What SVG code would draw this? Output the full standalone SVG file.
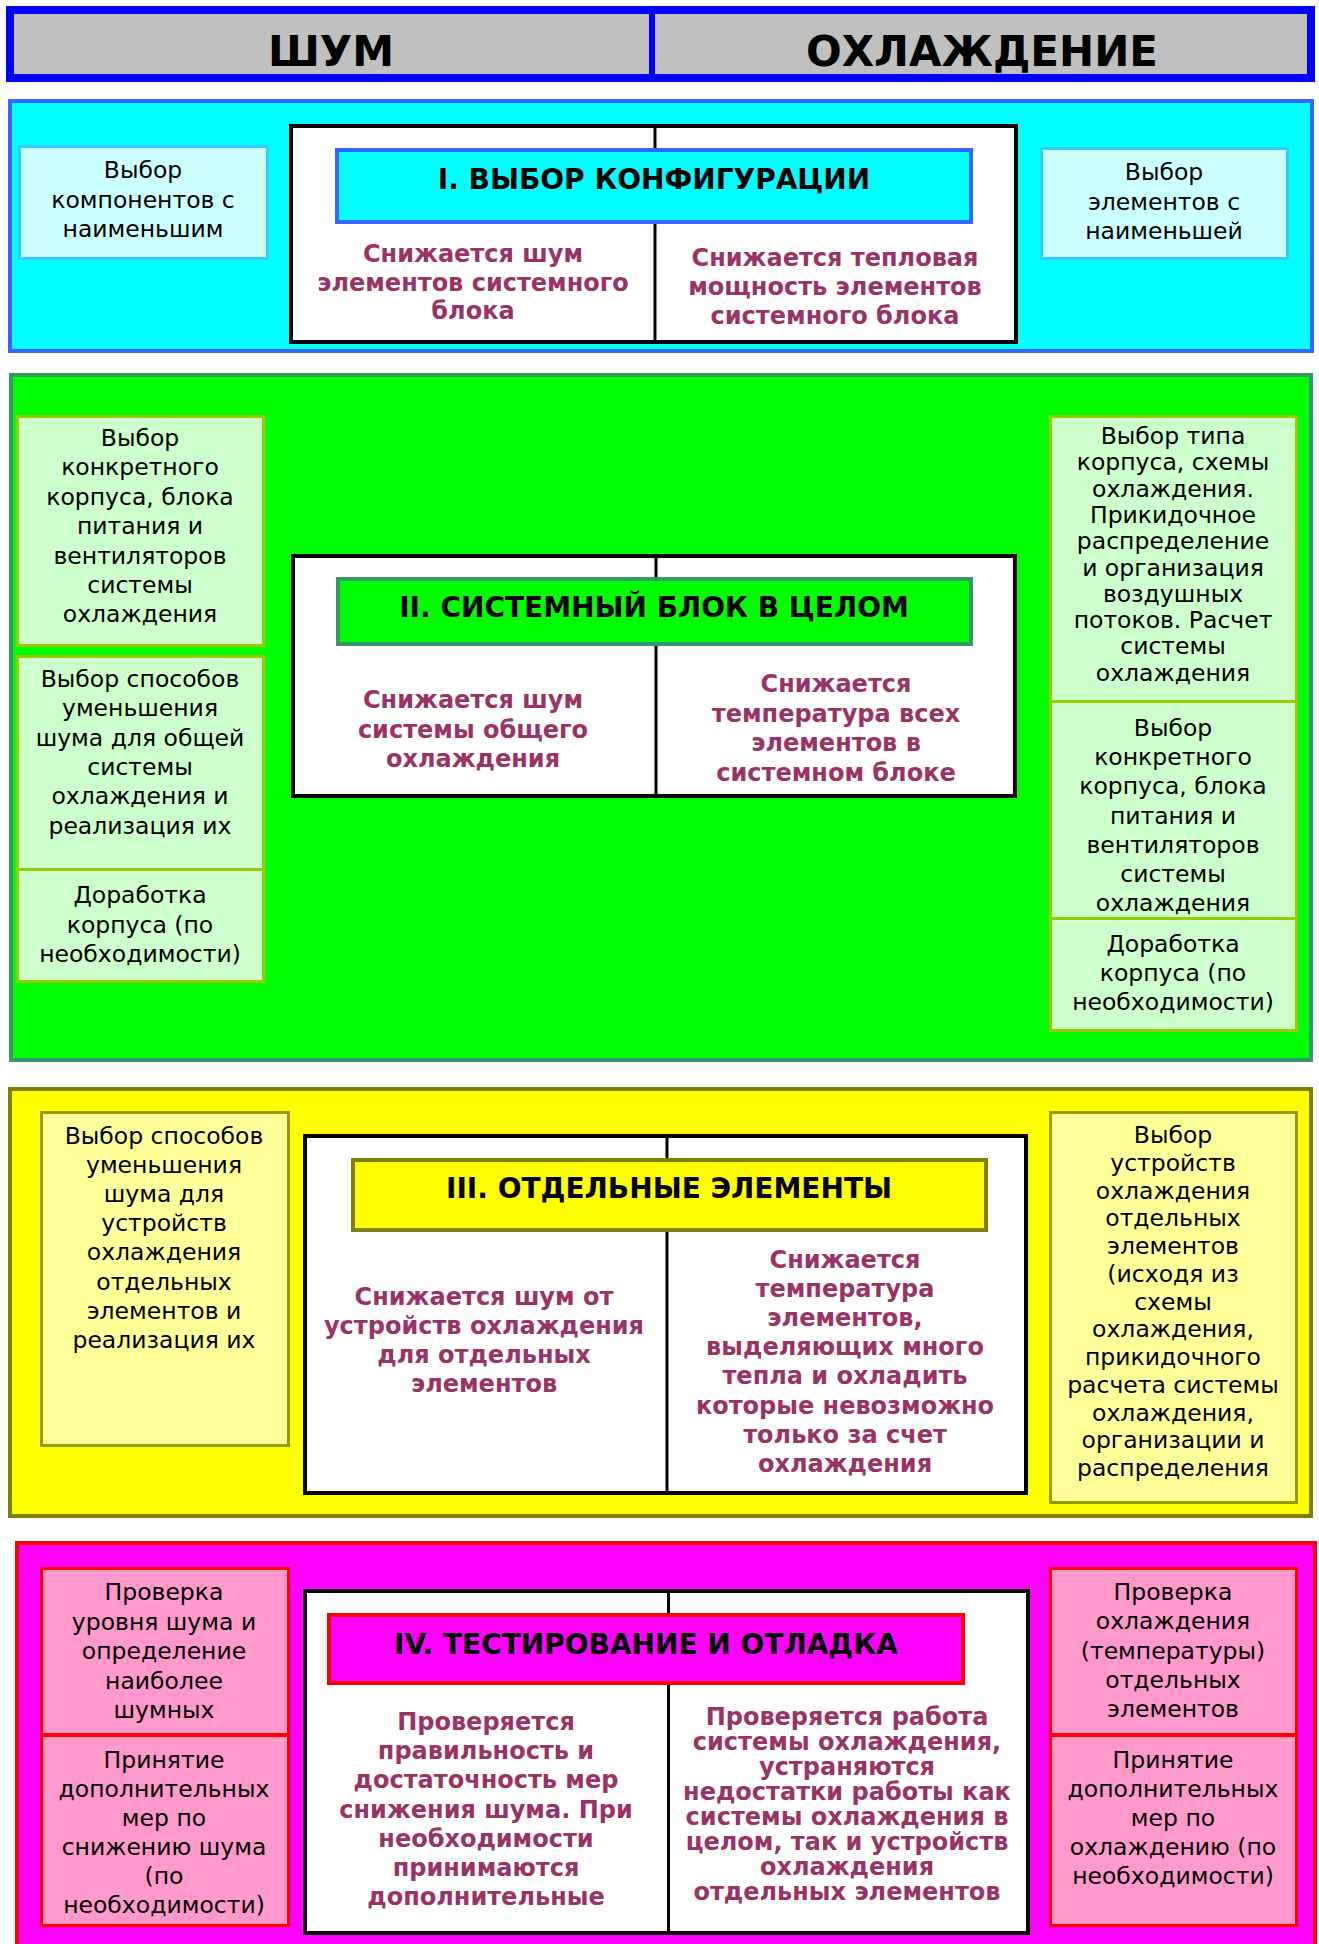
<svg xmlns="http://www.w3.org/2000/svg" width="1319" height="1944" viewBox="0 0 1319 1944">
<style>
text{font-family:"DejaVu Sans","Verdana",sans-serif;text-anchor:middle}
.hd{font-size:42px;font-weight:bold;fill:#000}
.tt{font-size:28px;font-weight:bold;fill:#000}
.pr{font-size:24px;font-weight:bold;fill:#993366}
.bd{font-size:23.5px;fill:#000}
.bd3{font-size:23.5px;fill:#000}
.wb{fill:#fff;stroke:#000;stroke-width:4}
.dv{stroke:#000;stroke-width:3}
</style>
<rect width="1319" height="1944" fill="#fff"/>

<g id="header">
<rect x="10" y="10" width="1301" height="68" fill="#c0c0c0" stroke="#0000ff" stroke-width="8"/>
<line x1="652" y1="10" x2="652" y2="80" stroke="#0000ff" stroke-width="6"/>
<text class="hd" x="331" y="66">ШУМ</text>
<text class="hd" x="982" y="66">ОХЛАЖДЕНИЕ</text>
</g>

<g id="section1">
<rect x="10" y="101" width="1302" height="250" fill="#00ffff" stroke="#3366ff" stroke-width="4"/>
<g id="s1-left">
<rect x="19.5" y="146.5" width="248" height="112" fill="#ccffff" stroke="#33ccff" stroke-width="3"/>
<text class="bd" x="143"><tspan x="143" y="178">Выбор</tspan><tspan x="143" y="207.5">компонентов с</tspan><tspan x="143" y="237">наименьшим</tspan></text>
</g>
<g id="s1-right">
<rect x="1041.5" y="148.5" width="246" height="110" fill="#ccffff" stroke="#33ccff" stroke-width="3"/>
<text class="bd" x="1164"><tspan x="1164" y="180">Выбор</tspan><tspan x="1164" y="209.5">элементов с</tspan><tspan x="1164" y="239">наименьшей</tspan></text>
</g>
<g id="s1-center">
<rect class="wb" x="291" y="126" width="725" height="216"/>
<line class="dv" x1="655" y1="126" x2="655" y2="342"/>
<rect x="337" y="150" width="634" height="72" fill="#00ffff" stroke="#3366ff" stroke-width="4"/>
<text class="tt" x="654" y="189">I. ВЫБОР КОНФИГУРАЦИИ</text>
<text class="pr"><tspan x="473" y="262">Снижается шум</tspan><tspan x="473" y="290.5">элементов системного</tspan><tspan x="473" y="319">блока</tspan></text>
<text class="pr"><tspan x="835" y="266">Снижается тепловая</tspan><tspan x="835" y="295">мощность элементов</tspan><tspan x="835" y="324">системного блока</tspan></text>
</g>
</g>

<g id="section2">
<rect x="11" y="375" width="1300" height="685" fill="#00ff00" stroke="#339966" stroke-width="4"/>
<g id="s2-left-a">
<rect x="17.5" y="416.5" width="246" height="229" fill="#ccffcc" stroke="#99cc00" stroke-width="3"/>
<text class="bd"><tspan x="140" y="446">Выбор</tspan><tspan x="140" y="475.4">конкретного</tspan><tspan x="140" y="504.8">корпуса, блока</tspan><tspan x="140" y="534.2">питания и</tspan><tspan x="140" y="563.6">вентиляторов</tspan><tspan x="140" y="593">системы</tspan><tspan x="140" y="622.4">охлаждения</tspan></text>
</g>
<g id="s2-left-b">
<rect x="17.5" y="656.5" width="246" height="213" fill="#ccffcc" stroke="#99cc00" stroke-width="3"/>
<text class="bd"><tspan x="140" y="687">Выбор способов</tspan><tspan x="140" y="716.3">уменьшения</tspan><tspan x="140" y="745.6">шума для общей</tspan><tspan x="140" y="774.9">системы</tspan><tspan x="140" y="804.2">охлаждения и</tspan><tspan x="140" y="833.5">реализация их</tspan></text>
</g>
<g id="s2-left-c">
<rect x="17.5" y="869.5" width="246" height="112" fill="#ccffcc" stroke="#99cc00" stroke-width="3"/>
<text class="bd"><tspan x="140" y="903">Доработка</tspan><tspan x="140" y="932.5">корпуса (по</tspan><tspan x="140" y="962">необходимости)</tspan></text>
</g>
<g id="s2-center">
<rect class="wb" x="293" y="556" width="722" height="240"/>
<line class="dv" x1="656" y1="556" x2="656" y2="796"/>
<rect x="338" y="579" width="633" height="65" fill="#00ff00" stroke="#339966" stroke-width="4"/>
<text class="tt" x="654" y="617">II. СИСТЕМНЫЙ БЛОК В ЦЕЛОМ</text>
<text class="pr"><tspan x="473" y="708">Снижается шум</tspan><tspan x="473" y="737.5">системы общего</tspan><tspan x="473" y="767">охлаждения</tspan></text>
<text class="pr"><tspan x="836" y="692">Снижается</tspan><tspan x="836" y="721.5">температура всех</tspan><tspan x="836" y="751">элементов в</tspan><tspan x="836" y="780.5">системном блоке</tspan></text>
</g>
<g id="s2-right-a">
<rect x="1050.5" y="416.5" width="246" height="285" fill="#ccffcc" stroke="#99cc00" stroke-width="3"/>
<text class="bd"><tspan x="1173" y="444">Выбор типа</tspan><tspan x="1173" y="470.3">корпуса, схемы</tspan><tspan x="1173" y="496.6">охлаждения.</tspan><tspan x="1173" y="522.9">Прикидочное</tspan><tspan x="1173" y="549.2">распределение</tspan><tspan x="1173" y="575.5">и организация</tspan><tspan x="1173" y="601.8">воздушных</tspan><tspan x="1173" y="628.1">потоков. Расчет</tspan><tspan x="1173" y="654.4">системы</tspan><tspan x="1173" y="680.7">охлаждения</tspan></text>
</g>
<g id="s2-right-b">
<rect x="1050.5" y="701.5" width="246" height="217" fill="#ccffcc" stroke="#99cc00" stroke-width="3"/>
<text class="bd"><tspan x="1173" y="736">Выбор</tspan><tspan x="1173" y="765.2">конкретного</tspan><tspan x="1173" y="794.4">корпуса, блока</tspan><tspan x="1173" y="823.6">питания и</tspan><tspan x="1173" y="852.8">вентиляторов</tspan><tspan x="1173" y="882">системы</tspan><tspan x="1173" y="911.2">охлаждения</tspan></text>
</g>
<g id="s2-right-c">
<rect x="1050.5" y="918.5" width="246" height="112" fill="#ccffcc" stroke="#99cc00" stroke-width="3"/>
<text class="bd"><tspan x="1173" y="952">Доработка</tspan><tspan x="1173" y="981">корпуса (по</tspan><tspan x="1173" y="1010">необходимости)</tspan></text>
</g>
</g>

<g id="section3">
<rect x="10" y="1089" width="1301" height="427" fill="#ffff00" stroke="#808000" stroke-width="4"/>
<g id="s3-left">
<rect x="41.5" y="1112.5" width="247" height="333" fill="#ffff99" stroke="#999900" stroke-width="3"/>
<text class="bd3"><tspan x="164" y="1143.5">Выбор способов</tspan><tspan x="164" y="1172.7">уменьшения</tspan><tspan x="164" y="1201.9">шума для</tspan><tspan x="164" y="1231.1">устройств</tspan><tspan x="164" y="1260.3">охлаждения</tspan><tspan x="164" y="1289.5">отдельных</tspan><tspan x="164" y="1318.7">элементов и</tspan><tspan x="164" y="1347.9">реализация их</tspan></text>
</g>
<g id="s3-center">
<rect class="wb" x="305" y="1136" width="721" height="357"/>
<line class="dv" x1="667" y1="1136" x2="667" y2="1493"/>
<rect x="353" y="1160" width="633" height="70" fill="#ffff00" stroke="#808000" stroke-width="4"/>
<text class="tt" x="669" y="1198">III. ОТДЕЛЬНЫЕ ЭЛЕМЕНТЫ</text>
<text class="pr"><tspan x="484" y="1305">Снижается шум от</tspan><tspan x="484" y="1334">устройств охлаждения</tspan><tspan x="484" y="1363">для отдельных</tspan><tspan x="484" y="1392">элементов</tspan></text>
<text class="pr"><tspan x="845" y="1268">Снижается</tspan><tspan x="845" y="1297.1">температура</tspan><tspan x="845" y="1326.2">элементов,</tspan><tspan x="845" y="1355.3">выделяющих много</tspan><tspan x="845" y="1384.4">тепла и охладить</tspan><tspan x="845" y="1413.5">которые невозможно</tspan><tspan x="845" y="1442.6">только за счет</tspan><tspan x="845" y="1471.7">охлаждения</tspan></text>
</g>
<g id="s3-right">
<rect x="1050.5" y="1112.5" width="246" height="390" fill="#ffff99" stroke="#999900" stroke-width="3"/>
<text class="bd3"><tspan x="1173" y="1143">Выбор</tspan><tspan x="1173" y="1170.75">устройств</tspan><tspan x="1173" y="1198.5">охлаждения</tspan><tspan x="1173" y="1226.25">отдельных</tspan><tspan x="1173" y="1254">элементов</tspan><tspan x="1173" y="1281.75">(исходя из</tspan><tspan x="1173" y="1309.5">схемы</tspan><tspan x="1173" y="1337.25">охлаждения,</tspan><tspan x="1173" y="1365">прикидочного</tspan><tspan x="1173" y="1392.75">расчета системы</tspan><tspan x="1173" y="1420.5">охлаждения,</tspan><tspan x="1173" y="1448.25">организации и</tspan><tspan x="1173" y="1476">распределения</tspan></text>
</g>
</g>

<g id="section4">
<rect x="17" y="1543" width="1298" height="420" fill="#ff00ff" stroke="#ff0000" stroke-width="4"/>
<g id="s4-left-a">
<rect x="41.5" y="1568.5" width="247" height="166" fill="#ff99cc" stroke="#ff0000" stroke-width="3"/>
<text class="bd3"><tspan x="164" y="1600">Проверка</tspan><tspan x="164" y="1629.5">уровня шума и</tspan><tspan x="164" y="1659">определение</tspan><tspan x="164" y="1688.5">наиболее</tspan><tspan x="164" y="1718">шумных</tspan></text>
</g>
<g id="s4-left-b">
<rect x="41.5" y="1735.5" width="247" height="190" fill="#ff99cc" stroke="#ff0000" stroke-width="3"/>
<text class="bd3"><tspan x="164" y="1768">Принятие</tspan><tspan x="164" y="1797">дополнительных</tspan><tspan x="164" y="1826">мер по</tspan><tspan x="164" y="1855">снижению шума</tspan><tspan x="164" y="1884">(по</tspan><tspan x="164" y="1913">необходимости)</tspan></text>
</g>
<g id="s4-center">
<rect class="wb" x="305" y="1591" width="723" height="342"/>
<line class="dv" x1="668.5" y1="1591" x2="668.5" y2="1933"/>
<rect x="329" y="1615" width="634" height="68" fill="#ff00ff" stroke="#ff0000" stroke-width="4"/>
<text class="tt" x="646" y="1654">IV. ТЕСТИРОВАНИЕ И ОТЛАДКА</text>
<text class="pr"><tspan x="486" y="1730">Проверяется</tspan><tspan x="486" y="1759.2">правильность и</tspan><tspan x="486" y="1788.4">достаточность мер</tspan><tspan x="486" y="1817.6">снижения шума. При</tspan><tspan x="486" y="1846.8">необходимости</tspan><tspan x="486" y="1876">принимаются</tspan><tspan x="486" y="1905.2">дополнительные</tspan></text>
<text class="pr"><tspan x="847" y="1725">Проверяется работа</tspan><tspan x="847" y="1750">системы охлаждения,</tspan><tspan x="847" y="1775">устраняются</tspan><tspan x="847" y="1800">недостатки работы как</tspan><tspan x="847" y="1825">системы охлаждения в</tspan><tspan x="847" y="1850">целом, так и устройств</tspan><tspan x="847" y="1875">охлаждения</tspan><tspan x="847" y="1900">отдельных элементов</tspan></text>
</g>
<g id="s4-right-a">
<rect x="1050.5" y="1568.5" width="246" height="166" fill="#ff99cc" stroke="#ff0000" stroke-width="3"/>
<text class="bd3"><tspan x="1173" y="1600">Проверка</tspan><tspan x="1173" y="1629.3">охлаждения</tspan><tspan x="1173" y="1658.6">(температуры)</tspan><tspan x="1173" y="1687.9">отдельных</tspan><tspan x="1173" y="1717.2">элементов</tspan></text>
</g>
<g id="s4-right-b">
<rect x="1050.5" y="1735.5" width="246" height="190" fill="#ff99cc" stroke="#ff0000" stroke-width="3"/>
<text class="bd3"><tspan x="1173" y="1768">Принятие</tspan><tspan x="1173" y="1797">дополнительных</tspan><tspan x="1173" y="1826">мер по</tspan><tspan x="1173" y="1855">охлаждению (по</tspan><tspan x="1173" y="1884">необходимости)</tspan></text>
</g>
</g>

<g id="connectors"></g>
</svg>
